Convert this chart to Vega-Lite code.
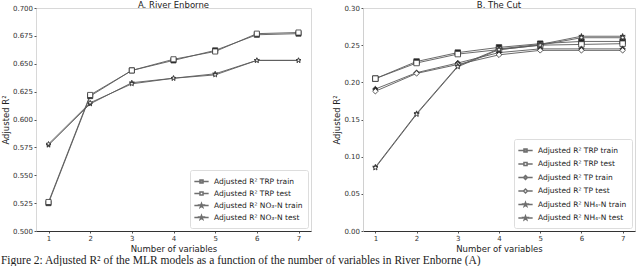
{
  "$schema": "https://vega.github.io/schema/vega-lite/v6.json",
  "background": "white",
  "padding": {"left": 0, "top": 0, "right": 2, "bottom": 0},
  "title": {"text": "Figure 2: Adjusted R² of the MLR models as a function of the number of variables in River Enborne (A)", "orient": "bottom", "anchor": "start", "font": "Liberation Serif", "fontSize": 11.5, "fontWeight": "normal", "color": "#222", "offset": 1},
  "config": {
    "font": "DejaVu Sans",
    "view": {"stroke": "#d8d8d8", "strokeWidth": 1},
    "axis": {"grid": false, "labelFontSize": 7, "labelColor": "#333", "titleFontSize": 8.5, "titleFontWeight": "normal", "titleColor": "#222", "tickSize": 2, "tickColor": "#555", "labelPadding": 1.5},
    "axisX": {"domainColor": "#333", "titlePadding": 3},
    "axisY": {"domainColor": "#d0d0d0", "titlePadding": 2},
    "title": {"fontSize": 8.5, "fontWeight": "normal", "color": "#222", "offset": -5}
  },
  "datasets": {
    "pts": [
      {"panel": "A", "series": "Adjusted R² TRP train", "n": 1, "r2": 0.525},
      {"panel": "A", "series": "Adjusted R² TRP train", "n": 2, "r2": 0.621},
      {"panel": "A", "series": "Adjusted R² TRP train", "n": 3, "r2": 0.644},
      {"panel": "A", "series": "Adjusted R² TRP train", "n": 4, "r2": 0.653},
      {"panel": "A", "series": "Adjusted R² TRP train", "n": 5, "r2": 0.662},
      {"panel": "A", "series": "Adjusted R² TRP train", "n": 6, "r2": 0.676},
      {"panel": "A", "series": "Adjusted R² TRP train", "n": 7, "r2": 0.677},
      {"panel": "A", "series": "Adjusted R² TRP test", "n": 1, "r2": 0.526},
      {"panel": "A", "series": "Adjusted R² TRP test", "n": 2, "r2": 0.622},
      {"panel": "A", "series": "Adjusted R² TRP test", "n": 3, "r2": 0.644},
      {"panel": "A", "series": "Adjusted R² TRP test", "n": 4, "r2": 0.654},
      {"panel": "A", "series": "Adjusted R² TRP test", "n": 5, "r2": 0.661},
      {"panel": "A", "series": "Adjusted R² TRP test", "n": 6, "r2": 0.677},
      {"panel": "A", "series": "Adjusted R² TRP test", "n": 7, "r2": 0.678},
      {"panel": "A", "series": "Adjusted R² NO₃-N train", "n": 1, "r2": 0.577},
      {"panel": "A", "series": "Adjusted R² NO₃-N train", "n": 2, "r2": 0.614},
      {"panel": "A", "series": "Adjusted R² NO₃-N train", "n": 3, "r2": 0.633},
      {"panel": "A", "series": "Adjusted R² NO₃-N train", "n": 4, "r2": 0.637},
      {"panel": "A", "series": "Adjusted R² NO₃-N train", "n": 5, "r2": 0.641},
      {"panel": "A", "series": "Adjusted R² NO₃-N train", "n": 6, "r2": 0.653},
      {"panel": "A", "series": "Adjusted R² NO₃-N train", "n": 7, "r2": 0.653},
      {"panel": "A", "series": "Adjusted R² NO₃-N test", "n": 1, "r2": 0.578},
      {"panel": "A", "series": "Adjusted R² NO₃-N test", "n": 2, "r2": 0.615},
      {"panel": "A", "series": "Adjusted R² NO₃-N test", "n": 3, "r2": 0.632},
      {"panel": "A", "series": "Adjusted R² NO₃-N test", "n": 4, "r2": 0.637},
      {"panel": "A", "series": "Adjusted R² NO₃-N test", "n": 5, "r2": 0.640},
      {"panel": "A", "series": "Adjusted R² NO₃-N test", "n": 6, "r2": 0.653},
      {"panel": "A", "series": "Adjusted R² NO₃-N test", "n": 7, "r2": 0.653},
      {"panel": "B", "series": "Adjusted R² TRP train", "n": 1, "r2": 0.205},
      {"panel": "B", "series": "Adjusted R² TRP train", "n": 2, "r2": 0.228},
      {"panel": "B", "series": "Adjusted R² TRP train", "n": 3, "r2": 0.240},
      {"panel": "B", "series": "Adjusted R² TRP train", "n": 4, "r2": 0.247},
      {"panel": "B", "series": "Adjusted R² TRP train", "n": 5, "r2": 0.252},
      {"panel": "B", "series": "Adjusted R² TRP train", "n": 6, "r2": 0.255},
      {"panel": "B", "series": "Adjusted R² TRP train", "n": 7, "r2": 0.255},
      {"panel": "B", "series": "Adjusted R² TRP test", "n": 1, "r2": 0.205},
      {"panel": "B", "series": "Adjusted R² TRP test", "n": 2, "r2": 0.226},
      {"panel": "B", "series": "Adjusted R² TRP test", "n": 3, "r2": 0.238},
      {"panel": "B", "series": "Adjusted R² TRP test", "n": 4, "r2": 0.244},
      {"panel": "B", "series": "Adjusted R² TRP test", "n": 5, "r2": 0.250},
      {"panel": "B", "series": "Adjusted R² TRP test", "n": 6, "r2": 0.251},
      {"panel": "B", "series": "Adjusted R² TRP test", "n": 7, "r2": 0.252},
      {"panel": "B", "series": "Adjusted R² TP train", "n": 1, "r2": 0.191},
      {"panel": "B", "series": "Adjusted R² TP train", "n": 2, "r2": 0.213},
      {"panel": "B", "series": "Adjusted R² TP train", "n": 3, "r2": 0.226},
      {"panel": "B", "series": "Adjusted R² TP train", "n": 4, "r2": 0.240},
      {"panel": "B", "series": "Adjusted R² TP train", "n": 5, "r2": 0.245},
      {"panel": "B", "series": "Adjusted R² TP train", "n": 6, "r2": 0.245},
      {"panel": "B", "series": "Adjusted R² TP train", "n": 7, "r2": 0.245},
      {"panel": "B", "series": "Adjusted R² TP test", "n": 1, "r2": 0.188},
      {"panel": "B", "series": "Adjusted R² TP test", "n": 2, "r2": 0.212},
      {"panel": "B", "series": "Adjusted R² TP test", "n": 3, "r2": 0.224},
      {"panel": "B", "series": "Adjusted R² TP test", "n": 4, "r2": 0.237},
      {"panel": "B", "series": "Adjusted R² TP test", "n": 5, "r2": 0.243},
      {"panel": "B", "series": "Adjusted R² TP test", "n": 6, "r2": 0.243},
      {"panel": "B", "series": "Adjusted R² TP test", "n": 7, "r2": 0.243},
      {"panel": "B", "series": "Adjusted R² NH₄-N train", "n": 1, "r2": 0.086},
      {"panel": "B", "series": "Adjusted R² NH₄-N train", "n": 2, "r2": 0.158},
      {"panel": "B", "series": "Adjusted R² NH₄-N train", "n": 3, "r2": 0.222},
      {"panel": "B", "series": "Adjusted R² NH₄-N train", "n": 4, "r2": 0.245},
      {"panel": "B", "series": "Adjusted R² NH₄-N train", "n": 5, "r2": 0.251},
      {"panel": "B", "series": "Adjusted R² NH₄-N train", "n": 6, "r2": 0.262},
      {"panel": "B", "series": "Adjusted R² NH₄-N train", "n": 7, "r2": 0.262},
      {"panel": "B", "series": "Adjusted R² NH₄-N test", "n": 1, "r2": 0.085},
      {"panel": "B", "series": "Adjusted R² NH₄-N test", "n": 2, "r2": 0.157},
      {"panel": "B", "series": "Adjusted R² NH₄-N test", "n": 3, "r2": 0.221},
      {"panel": "B", "series": "Adjusted R² NH₄-N test", "n": 4, "r2": 0.244},
      {"panel": "B", "series": "Adjusted R² NH₄-N test", "n": 5, "r2": 0.250},
      {"panel": "B", "series": "Adjusted R² NH₄-N test", "n": 6, "r2": 0.260},
      {"panel": "B", "series": "Adjusted R² NH₄-N test", "n": 7, "r2": 0.260}
    ]
  },
  "spacing": 20,
  "resolve": {"scale": {"x": "independent", "y": "independent", "shape": "independent", "fill": "independent", "detail": "independent"}},
  "hconcat": [
    {
      "title": "A. River Enborne",
      "width": 275,
      "height": 223,
      "data": {"name": "pts"},
      "transform": [{"filter": "datum.panel === 'A'"}],
      "encoding": {
        "x": {"field": "n", "type": "quantitative", "scale": {"domain": [0.7, 7.3], "nice": false, "zero": false}, "axis": {"values": [1, 2, 3, 4, 5, 6, 7], "title": "Number of variables"}},
        "y": {"field": "r2", "type": "quantitative", "scale": {"domain": [0.5, 0.7], "nice": false, "zero": false}, "axis": {"values": [0.5, 0.525, 0.55, 0.575, 0.6, 0.625, 0.65, 0.675, 0.7], "format": ".3f", "title": "Adjusted R²", "domain": false}}
      },
      "resolve": {"scale": {"shape": "independent", "fill": "independent"}},
      "layer": [
        {
          "mark": {"type": "line", "color": "#5a5a5a", "strokeWidth": 0.9},
          "encoding": {"detail": {"field": "series", "type": "nominal"}}
        },
        {
          "mark": {"type": "point", "filled": false, "stroke": "#333", "strokeWidth": 0.8, "opacity": 1},
          "encoding": {
            "shape": {"field": "series", "type": "nominal", "legend": null, "scale": {"domain": ["Adjusted R² TRP train", "Adjusted R² TRP test", "Adjusted R² NO₃-N train", "Adjusted R² NO₃-N test"], "range": ["square", "square", "M0,-1L0.235,-0.324L0.951,-0.309L0.38,0.124L0.588,0.809L0,0.4L-0.588,0.809L-0.38,0.124L-0.951,-0.309L-0.235,-0.324Z", "M0,-1L0.235,-0.324L0.951,-0.309L0.38,0.124L0.588,0.809L0,0.4L-0.588,0.809L-0.38,0.124L-0.951,-0.309L-0.235,-0.324Z"]}},
            "fill": {"field": "series", "type": "nominal", "legend": null, "scale": {"domain": ["Adjusted R² TRP train", "Adjusted R² TRP test", "Adjusted R² NO₃-N train", "Adjusted R² NO₃-N test"], "range": ["#222", "white", "#222", "white"]}},
            "size": {"value": 26}
          }
        },
        {
          "mark": {"type": "point", "filled": true, "stroke": "#333"},
          "encoding": {
            "size": {"value": 0},
            "fill": {"field": "series", "type": "nominal", "legend": {"title": null}, "scale": {"domain": ["Adjusted R² TRP train", "Adjusted R² TRP test", "Adjusted R² NO₃-N train", "Adjusted R² NO₃-N test"], "range": ["#111", "white", "#111", "white"]}},
            "shape": {"field": "series", "type": "nominal", "legend": {"title": null, "orient": "bottom-right", "offset": 3, "padding": 5, "strokeColor": "#ddd", "fillColor": "white", "cornerRadius": 2, "labelFontSize": 7.5, "labelColor": "#222", "symbolSize": 121, "rowPadding": 0, "labelOffset": 6,
              "encode": {"symbols": {"update": {"stroke": {"value": "#333"}, "strokeWidth": {"value": 0.9}, "opacity": {"value": 1}, "strokeOpacity": {"value": 1}, "fillOpacity": {"value": 1}, "size": {"value": 121}}}}},
              "scale": {"domain": ["Adjusted R² TRP train", "Adjusted R² TRP test", "Adjusted R² NO₃-N train", "Adjusted R² NO₃-N test"], "range": [
                "M-1.3,0H-0.28M0.28,0H1.3M-0.28,-0.28H0.28V0.28H-0.28Z",
                "M-1.3,0H-0.28M0.28,0H1.3M-0.28,-0.28H0.28V0.28H-0.28Z",
                "M-1.3,0H-0.37M0.37,0H1.3M0,-0.38L0.09,-0.123L0.362,-0.118L0.145,0.047L0.224,0.309L0,0.152L-0.224,0.309L-0.145,0.047L-0.362,-0.118L-0.09,-0.123Z",
                "M-1.3,0H-0.37M0.37,0H1.3M0,-0.38L0.09,-0.123L0.362,-0.118L0.145,0.047L0.224,0.309L0,0.152L-0.224,0.309L-0.145,0.047L-0.362,-0.118L-0.09,-0.123Z"]}}
          }
        }
      ]
    },
    {
      "title": "B. The Cut",
      "width": 272,
      "height": 223,
      "data": {"name": "pts"},
      "transform": [{"filter": "datum.panel === 'B'"}],
      "encoding": {
        "x": {"field": "n", "type": "quantitative", "scale": {"domain": [0.7, 7.3], "nice": false, "zero": false}, "axis": {"values": [1, 2, 3, 4, 5, 6, 7], "title": "Number of variables"}},
        "y": {"field": "r2", "type": "quantitative", "scale": {"domain": [0, 0.3], "nice": false, "zero": false}, "axis": {"values": [0, 0.05, 0.1, 0.15, 0.2, 0.25, 0.3], "format": ".2f", "title": "Adjusted R²"}}
      },
      "resolve": {"scale": {"shape": "independent", "fill": "independent"}},
      "layer": [
        {
          "mark": {"type": "line", "color": "#5a5a5a", "strokeWidth": 0.9},
          "encoding": {"detail": {"field": "series", "type": "nominal"}}
        },
        {
          "mark": {"type": "point", "filled": false, "stroke": "#333", "strokeWidth": 0.8, "opacity": 1},
          "encoding": {
            "shape": {"field": "series", "type": "nominal", "legend": null, "scale": {"domain": ["Adjusted R² TRP train", "Adjusted R² TRP test", "Adjusted R² TP train", "Adjusted R² TP test", "Adjusted R² NH₄-N train", "Adjusted R² NH₄-N test"], "range": ["square", "square", "diamond", "diamond", "M0,-1L0.235,-0.324L0.951,-0.309L0.38,0.124L0.588,0.809L0,0.4L-0.588,0.809L-0.38,0.124L-0.951,-0.309L-0.235,-0.324Z", "M0,-1L0.235,-0.324L0.951,-0.309L0.38,0.124L0.588,0.809L0,0.4L-0.588,0.809L-0.38,0.124L-0.951,-0.309L-0.235,-0.324Z"]}},
            "fill": {"field": "series", "type": "nominal", "legend": null, "scale": {"domain": ["Adjusted R² TRP train", "Adjusted R² TRP test", "Adjusted R² TP train", "Adjusted R² TP test", "Adjusted R² NH₄-N train", "Adjusted R² NH₄-N test"], "range": ["#222", "white", "#222", "white", "#222", "white"]}},
            "size": {"value": 30}
          }
        },
        {
          "mark": {"type": "point", "filled": true, "stroke": "#333"},
          "encoding": {
            "size": {"value": 0},
            "fill": {"field": "series", "type": "nominal", "legend": {"title": null}, "scale": {"domain": ["Adjusted R² TRP train", "Adjusted R² TRP test", "Adjusted R² TP train", "Adjusted R² TP test", "Adjusted R² NH₄-N train", "Adjusted R² NH₄-N test"], "range": ["#111", "white", "#111", "white", "#111", "white"]}},
            "shape": {"field": "series", "type": "nominal", "legend": {"title": null, "orient": "bottom-right", "offset": 3, "padding": 5, "strokeColor": "#ddd", "fillColor": "white", "cornerRadius": 2, "labelFontSize": 7.5, "labelColor": "#222", "symbolSize": 121, "rowPadding": 1.5, "labelOffset": 6,
              "encode": {"symbols": {"update": {"stroke": {"value": "#333"}, "strokeWidth": {"value": 0.9}, "opacity": {"value": 1}, "strokeOpacity": {"value": 1}, "fillOpacity": {"value": 1}, "size": {"value": 121}}}}},
              "scale": {"domain": ["Adjusted R² TRP train", "Adjusted R² TRP test", "Adjusted R² TP train", "Adjusted R² TP test", "Adjusted R² NH₄-N train", "Adjusted R² NH₄-N test"], "range": [
                "M-1.3,0H-0.28M0.28,0H1.3M-0.28,-0.28H0.28V0.28H-0.28Z",
                "M-1.3,0H-0.28M0.28,0H1.3M-0.28,-0.28H0.28V0.28H-0.28Z",
                "M-1.3,0H-0.36M0.36,0H1.3M0,-0.36L0.36,0L0,0.36L-0.36,0Z",
                "M-1.3,0H-0.36M0.36,0H1.3M0,-0.36L0.36,0L0,0.36L-0.36,0Z",
                "M-1.3,0H-0.37M0.37,0H1.3M0,-0.38L0.09,-0.123L0.362,-0.118L0.145,0.047L0.224,0.309L0,0.152L-0.224,0.309L-0.145,0.047L-0.362,-0.118L-0.09,-0.123Z",
                "M-1.3,0H-0.37M0.37,0H1.3M0,-0.38L0.09,-0.123L0.362,-0.118L0.145,0.047L0.224,0.309L0,0.152L-0.224,0.309L-0.145,0.047L-0.362,-0.118L-0.09,-0.123Z"]}}
          }
        }
      ]
    }
  ]
}
